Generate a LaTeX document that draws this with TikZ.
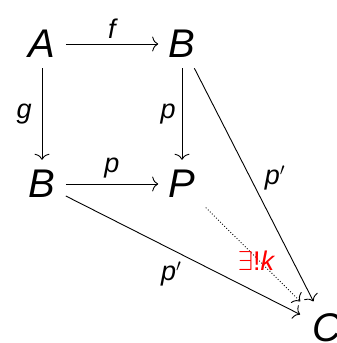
\documentclass[tikz,border=0pt]{standalone}
\usepackage{fontspec}
\setmainfont{Liberation Sans}
\usetikzlibrary{arrows.meta, positioning}

\begin{document}
\begin{tikzpicture}[x=1pt, y=-1pt, >={To[length=6pt, width=15pt]}, line width=0.9pt]
    \useasboundingbox (0,0) rectangle (337,343);
    \tikzset{obj/.style={font=\fontsize{40}{40}\selectfont\itshape, inner sep=10pt},
             lbl/.style={font=\fontsize{27}{27}\selectfont\itshape, inner sep=5pt}}

    \node (a) [obj] at (42,44) {A};
    \node (b) [obj] at (182,44) {B};
    \node (bl) [obj] at (42,184) {B};
    \node (p) [obj] at (182,184) {P};
    \node (c) [obj, inner sep=12pt] at (327,328) {C};

    \draw [->] (a) -- node [lbl, above] {f} (b);
    \draw [->] (a) -- node [lbl, left, inner sep=10pt] {g} (bl);
    \draw [->] (b) -- node [lbl, left, inner sep=6pt] {p} (p);
    \draw [->] (bl) -- node [lbl, above] {p} (p);
    \draw [->] (b) -- node [lbl, right, pos=0.47, inner sep=14pt] {p$'$} (c);
    \draw [->] (bl) -- node [lbl, below, pos=0.45, inner sep=12pt] {p$'$} (c);
    \draw [->, dotted] (p) -- node [lbl, red, pos=0.5, yshift=-6pt, xshift=3pt] {{\upshape\scalebox{1.1}{$\exists$}!}k} (c);
\end{tikzpicture}
\end{document}
